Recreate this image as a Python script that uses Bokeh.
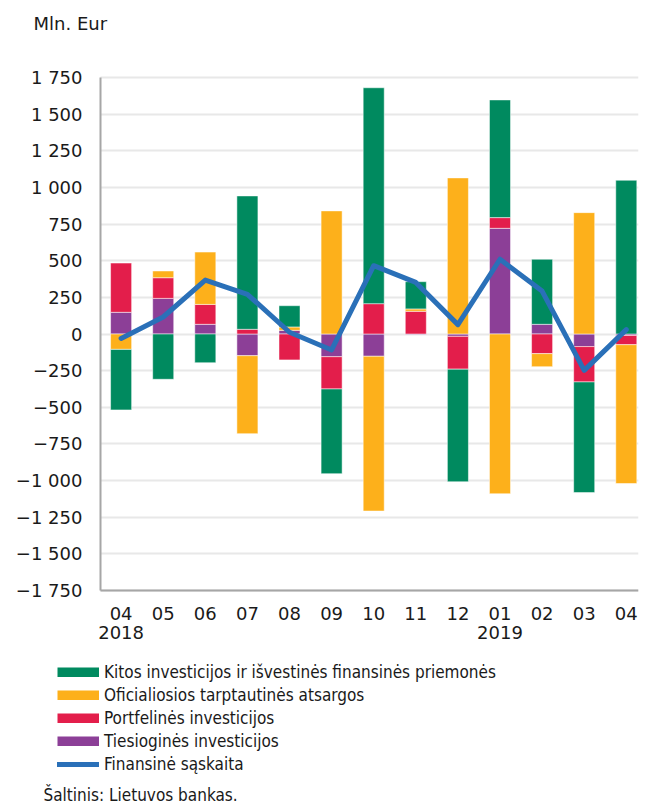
import numpy as np
from bokeh.plotting import figure
from bokeh.layouts import column
from bokeh.models import (ColumnDataSource, Legend, LegendItem, Title, Label, FixedTicker,
                          Range1d, BoxAnnotation)
from bokeh.embed import file_html
from bokeh.resources import INLINE

# ---- data (mln. EUR) ----
months = ["04", "05", "06", "07", "08", "09", "10", "11", "12", "01", "02", "03", "04"]
year_labels = {0: "2018", 9: "2019"}

other_inv = [-413, -309, -196, 910, 145, -578, 1473, 186, -768, 803, 444, -755, 1049]
reserves = [-105, 46, 357, -532, 23, 840, -1056, 16, 1065, -1090, -89, 828, -947]
portfolio = [336, 141, 136, 32, -177, -220, 207, 155, -224, 73, -134, -241, -63]
direct = [148, 243, 66, -148, 25, -155, -152, -5, -16, 721, 66, -86, -10]
financial = [-30, 116, 368, 271, 12, -109, 466, 352, 64, 510, 293, -248, 30]

y_ticks = list(range(-1750, 1751, 250))
y_min, y_max = -1750, 1750

names = {
    "other": "Kitos investicijos ir išvestinės finansinės priemonės",
    "reserves": "Oficialiosios tarptautinės atsargos",
    "portfolio": "Portfelinės investicijos",
    "direct": "Tiesioginės investicijos",
    "fin": "Finansinė sąskaita",
}
colors = {
    "other": "#008a5f",
    "reserves": "#fdb01b",
    "portfolio": "#e31e4b",
    "direct": "#8c3f97",
    "fin": "#2a70b8",
}
unit_text = "Mln. Eur"
source_text = "Šaltinis: Lietuvos bankas."

FONT = "DejaVu Sans"
LFONT = "DejaVu Sans Condensed"
TXT = "#1a1a1a"
W = 640

n = len(months)
x = np.arange(n)
X0, X1 = -0.49, 12.29          # visible category span
XL = -2.58                     # frame starts left of the y axis (room for its labels)
PXU = 513 / (y_max - y_min)    # pixels per unit on the value axis
Y_TOP = y_max + 10 / PXU       # a little room above the top tick label
Y_BOT = y_min - 60 / PXU       # room below for the category labels

# ---------------- main chart ----------------
p = figure(width=W, height=650, title=None,
           x_range=Range1d(XL, X1), y_range=Range1d(Y_BOT, Y_TOP),
           output_backend="svg", toolbar_location=None,
           min_border_left=12, min_border_right=2, min_border_top=67,
           min_border_bottom=0)
p.outline_line_color = None

p.xgrid.grid_line_color = None
yg = p.ygrid[0]
yg.grid_line_color = "#e8e8e8"
yg.grid_line_width = 2
yg.ticker = FixedTicker(ticks=y_ticks)
if "cross_bounds" in yg.properties():
    yg.cross_bounds = (X0, X1)
else:
    p.add_layout(BoxAnnotation(right=X0, fill_color="white", fill_alpha=1.0,
                               line_alpha=0, level="underlay"))

ya = p.yaxis[0]
ya.fixed_location = X0
ya.bounds = (y_min, y_max)
ya.ticker = FixedTicker(ticks=y_ticks)
ya.major_label_overrides = {t: (("\u2212" if t < 0 else "") + f"{abs(t):,}".replace(",", " ")) for t in y_ticks}
ya.axis_line_color = "#a6a6a6"
ya.axis_line_width = 2
ya.major_tick_line_color = None
ya.minor_tick_line_color = None
ya.major_label_text_font = FONT
ya.major_label_text_font_size = "18px"
ya.major_label_text_color = TXT
ya.major_label_standoff = 12

xa = p.xaxis[0]
xa.fixed_location = y_min
xa.bounds = (X0, X1)
xa.ticker = FixedTicker(ticks=list(x))
xa.major_label_overrides = {int(i): (m + ("\n" + year_labels[int(i)] if int(i) in year_labels else "")) for i, m in zip(x, months)}
xa.axis_line_color = "#a6a6a6"
xa.axis_line_width = 2
xa.major_tick_line_color = None
xa.minor_tick_line_color = None
xa.major_label_text_font = FONT
xa.major_label_text_font_size = "18px"
xa.major_label_text_color = TXT
xa.major_label_text_line_height = 0.95
xa.major_label_standoff = 6

pos = np.zeros(n)
neg = np.zeros(n)
for key, vals in [("direct", direct), ("portfolio", portfolio), ("reserves", reserves), ("other", other_inv)]:
    v = np.array(vals, dtype=float)
    bottom = np.where(v >= 0, pos, neg)
    topv = bottom + v
    pos = np.where(v >= 0, topv, pos)
    neg = np.where(v < 0, topv, neg)
    src = ColumnDataSource(dict(x=x, bottom=bottom, top=topv))
    p.vbar(x="x", bottom="bottom", top="top", width=0.5, source=src,
           fill_color=colors[key], line_color="white", line_alpha=0.5, line_width=1)

p.line(x, financial, line_color=colors["fin"], line_width=5,
       line_join="round", line_cap="round")

# unit text above the chart (spacer added first = nearest the frame)
p.add_layout(Title(text=" ", text_font_size="18px", standoff=12), "above")
p.add_layout(Title(text=unit_text, align="left", offset=21, standoff=0,
                   text_font=FONT, text_font_size="18px", text_font_style="normal",
                   text_color=TXT), "above")

# ---------------- legend strip ----------------
leg = figure(width=W, height=155, title=None, x_range=Range1d(0, 1), y_range=Range1d(0, 1),
             output_backend="svg", toolbar_location=None,
             x_axis_location=None, y_axis_location=None, min_border=0)
leg.outline_line_color = None
leg.xgrid.grid_line_color = None
leg.ygrid.grid_line_color = None

lr = {}
for k in ["other", "reserves", "portfolio", "direct"]:
    lr[k] = leg.line(x=[np.nan], y=[np.nan], line_color=colors[k], line_width=10, line_cap="butt")
lr["fin"] = leg.line(x=[np.nan], y=[np.nan], line_color=colors["fin"], line_width=5, line_cap="round")

legend = Legend(items=[LegendItem(label=names[k], renderers=[lr[k]])
                       for k in ["other", "reserves", "portfolio", "direct", "fin"]],
                location=(45, 31), orientation="vertical",
                border_line_color=None, background_fill_alpha=0,
                glyph_width=42, glyph_height=10, label_height=20,
                label_text_font=LFONT, label_text_font_size="17px",
                label_text_color=TXT,
                spacing=3, padding=0, margin=0, label_standoff=5)
leg.add_layout(legend, "center")
leg.add_layout(Label(x=31, y=11, x_units="screen", y_units="screen", text=source_text,
                     text_font=LFONT, text_font_size="17px", text_color=TXT,
                     text_baseline="alphabetic"))

layout = column(p, leg, spacing=0)
open("out.html", "w").write(file_html(layout, INLINE))
